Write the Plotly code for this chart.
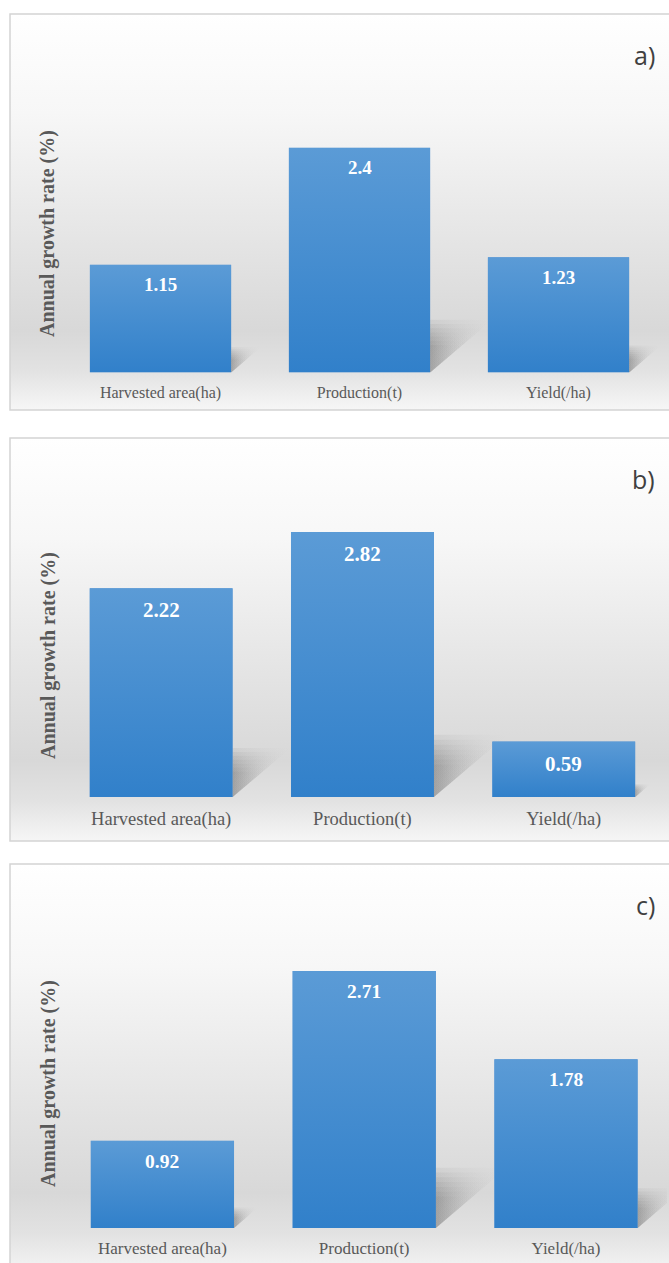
import base64
import plotly.graph_objects as go

# ---------------- data ----------------
categories = ["Harvested area(ha)", "Production(t)", "Yield(/ha)"]
values_a = [1.15, 2.4, 1.23]
values_b = [2.22, 2.82, 0.59]
values_c = [0.92, 2.71, 1.78]
panel_labels = ["a)", "b)", "c)"]
y_title = "Annual growth rate (%)"

# ---------------- layout (pixels) ----------------
W, H = 669, 1263
panels = [
    dict(vals=values_a, frame_top=14, frame_bot=410, x_left=61, spacing=199.0,
         base=372.5, ppu=93.6, cat_size=16, val_size=19, title_y=234),
    dict(vals=values_b, frame_top=438, frame_bot=841, x_left=60.5, spacing=201.3,
         base=797, ppu=94.0, cat_size=18.5, val_size=21, title_y=656),
    dict(vals=values_c, frame_top=864, frame_bot=1275, x_left=61.5, spacing=201.8,
         base=1228, ppu=94.8, cat_size=17, val_size=19.5, title_y=1084),
]
YMAX = 3.3
BW = 0.71
SERIF = "Liberation Serif"
TXT = "#595959"


def svg_uri(stops):
    st = "".join(f'<stop offset="{o}" stop-color="{c}"/>' for o, c in stops)
    svg = ('<svg xmlns="http://www.w3.org/2000/svg" width="10" height="100" '
           'preserveAspectRatio="none"><defs><linearGradient id="g" x1="0" y1="0" '
           f'x2="0" y2="1">{st}</linearGradient></defs>'
           '<rect x="0" y="0" width="10" height="100" fill="url(#g)"/></svg>')
    return "data:image/svg+xml;base64," + base64.b64encode(svg.encode()).decode()


BG = svg_uri([(0, "#ffffff"), (0.25, "#f7f7f7"), (0.55, "#e6e6e6"),
              (0.8, "#d8d8d8"), (0.9, "#e2e2e2"), (1.0, "#f6f6f6")])
BAR = svg_uri([(0, "#5b9bd6"), (1, "#3180ca")])

fig = go.Figure()
layout = dict(
    width=W, height=H, margin=dict(l=0, r=0, t=0, b=0),
    paper_bgcolor="white", plot_bgcolor="rgba(0,0,0,0)",
    showlegend=False, bargap=1 - BW,
)
annotations, shapes, images = [], [], []
SHADOW_LAYERS = [1.0, 0.92, 0.84, 0.76, 0.68, 0.6, 0.52]

for k, p in enumerate(panels):
    sx = "" if k == 0 else str(k + 1)
    xa, ya = "x" + sx, "y" + sx
    vals = p["vals"]
    xs = list(range(len(categories)))

    # soft shadows to the right of every bar (stacked translucent layers)
    for i, v in zip(xs, vals):
        xr = i + BW / 2
        for s in SHADOW_LAYERS:
            dx, h = 0.13 * v * s, 0.235 * v * s
            fig.add_trace(go.Scatter(
                x=[xr, xr + dx, xr, xr], y=[0, h, h, 0],
                mode="lines", fill="toself", line=dict(width=0),
                fillgradient=dict(type="horizontal", colorscale=[
                    [0, "rgba(90,90,90,0.085)"], [1, "rgba(160,160,160,0.0)"]]),
                hoverinfo="skip", xaxis=xa, yaxis=ya))

    fig.add_trace(go.Bar(x=xs, y=vals, width=BW, marker=dict(color="#4a8ed2", line=dict(width=0)),
                         hoverinfo="skip", xaxis=xa, yaxis=ya))

    # gradient on bars + value labels
    for i, v in zip(xs, vals):
        images.append(dict(source=BAR, xref=xa, yref=ya, x=i - BW / 2, y=v,
                           sizex=BW, sizey=v, xanchor="left", yanchor="top",
                           sizing="stretch", layer="above"))
        annotations.append(dict(xref=xa, yref=ya, x=i, y=v, text=f"{v:g}",
                                showarrow=False, yanchor="middle",
                                yshift=-(p["val_size"] + 1),
                                font=dict(family=SERIF, size=p["val_size"], color="white",
                                          weight="bold")))

    x0 = p["x_left"] / W
    x1 = (p["x_left"] + 3 * p["spacing"]) / W
    y0 = 1 - p["base"] / H
    y1 = 1 - (p["base"] - YMAX * p["ppu"]) / H
    layout["xaxis" + sx] = dict(domain=[x0, x1], range=[-0.5, 2.5], anchor=ya,
                                tickvals=xs, ticktext=categories, showgrid=False,
                                zeroline=False, showline=False, ticks="",
                                ticklabelstandoff=8,
                                tickfont=dict(family=SERIF, size=p["cat_size"], color=TXT),
                                fixedrange=True)
    layout["yaxis" + sx] = dict(domain=[y0, y1], range=[0, YMAX], anchor=xa,
                                showgrid=False, zeroline=False, showline=False,
                                showticklabels=False, ticks="", fixedrange=True)

    # panel frame + background
    ft = 1 - p["frame_top"] / H
    fb = 1 - p["frame_bot"] / H
    images.append(dict(source=BG, xref="paper", yref="paper", x=10 / W, y=ft,
                       sizex=1.05 - 10 / W, sizey=ft - fb, xanchor="left", yanchor="top",
                       sizing="stretch", layer="below"))
    shapes.append(dict(type="rect", xref="paper", yref="paper", x0=10 / W, x1=1.05,
                       y0=fb, y1=ft, line=dict(color="#d4d4d4", width=1.5),
                       fillcolor="rgba(0,0,0,0)", layer="above"))

    annotations.append(dict(xref="paper", yref="paper", x=48 / W, y=1 - p["title_y"] / H,
                            text=y_title, textangle=-90, showarrow=False,
                            xanchor="center", yanchor="middle",
                            font=dict(family=SERIF, size=20, color=TXT, weight="bold")))
    annotations.append(dict(xref="paper", yref="paper", x=657 / W,
                            y=1 - (p["frame_top"] + 41) / H, text=panel_labels[k],
                            showarrow=False, xanchor="right", yanchor="middle",
                            font=dict(family="Open Sans", size=25, color="#404040")))

layout["annotations"] = annotations
layout["shapes"] = shapes
layout["images"] = images
fig.update_layout(**layout)
fig.write_html("out.html")
